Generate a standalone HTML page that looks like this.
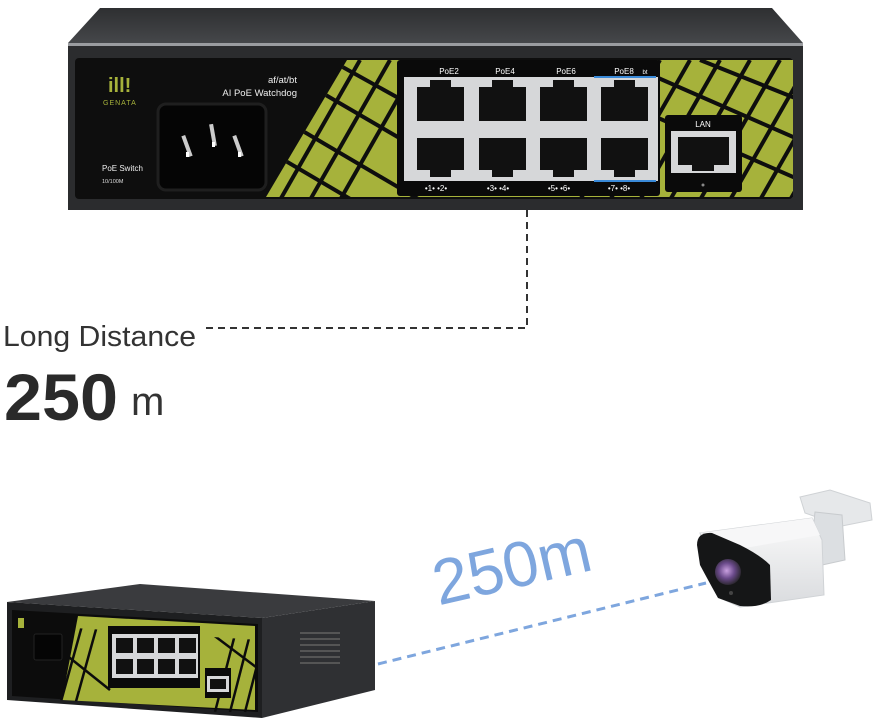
<!DOCTYPE html>
<html><head><meta charset="utf-8"><style>
html,body{margin:0;padding:0;background:#fff;width:880px;height:727px;overflow:hidden}
svg{display:block}
text{font-family:"Liberation Sans",sans-serif}
</style></head><body>
<svg width="880" height="727" viewBox="0 0 880 727" xmlns="http://www.w3.org/2000/svg">
<defs>
<linearGradient id="lid" x1="0" y1="0" x2="0" y2="1"><stop offset="0" stop-color="#2e2f31"/><stop offset="1" stop-color="#45474a"/></linearGradient>
<linearGradient id="body" x1="0" y1="0" x2="0" y2="1"><stop offset="0" stop-color="#fafafa"/><stop offset="1" stop-color="#d9dbde"/></linearGradient>
<clipPath id="gclip"><polygon points="347,60 793,60 793,197 266,197"/></clipPath>
<clipPath id="gclip2"><polygon points="75,628 258,640 258,715 60,700"/></clipPath>
<radialGradient id="lens" cx="0.45" cy="0.45" r="0.6"><stop offset="0" stop-color="#c9a0e0"/><stop offset="0.5" stop-color="#6a4a8a"/><stop offset="1" stop-color="#222"/></radialGradient>
</defs>

<!-- Top switch -->
<polygon points="100,8 772,8 803,43 68,43" fill="url(#lid)"/>
<rect x="68" y="43" width="735" height="3" fill="#9a9ca0"/>
<rect x="68" y="46" width="735" height="164" fill="#2b2c2e"/>
<rect x="75" y="58" width="718" height="141" rx="4" fill="#0e0e0e"/>
<polygon points="347,60 793,60 793,197 266,197" fill="#a6b23b"/>
<g clip-path="url(#gclip)" stroke="#0e0e0e" stroke-width="4">
<line x1="360" y1="60" x2="280" y2="200"/><line x1="390" y1="60" x2="310" y2="200"/>
<line x1="420" y1="60" x2="340" y2="200"/><line x1="660" y1="60" x2="580" y2="200"/>
<line x1="690" y1="60" x2="610" y2="200"/><line x1="720" y1="60" x2="640" y2="200"/>
<line x1="750" y1="60" x2="670" y2="200"/><line x1="780" y1="60" x2="700" y2="200"/>
<line x1="810" y1="60" x2="730" y2="200"/><line x1="840" y1="60" x2="760" y2="200"/>
<line x1="870" y1="60" x2="790" y2="200"/>
<line x1="250" y1="100" x2="420" y2="200"/><line x1="250" y1="140" x2="420" y2="240"/>
<line x1="300" y1="80" x2="420" y2="150"/><line x1="330" y1="60" x2="420" y2="110"/>
<line x1="640" y1="70" x2="800" y2="140"/><line x1="640" y1="110" x2="800" y2="180"/>
<line x1="700" y1="60" x2="800" y2="100"/>
</g>
<text x="108" y="92" fill="#a6b23b" font-size="20" font-weight="bold">ill!</text>
<text x="103" y="105" fill="#a6b23b" font-size="7" letter-spacing="1">GENATA</text>
<text x="297" y="83" fill="#eee" font-size="9.5" text-anchor="end">af/at/bt</text>
<text x="297" y="96" fill="#eee" font-size="9.5" text-anchor="end">AI PoE Watchdog</text>
<text x="102" y="171" fill="#eee" font-size="8">PoE Switch</text>
<text x="102" y="183" fill="#ddd" font-size="5.5">10/100M</text>
<rect x="158" y="104" width="108" height="86" rx="8" fill="#050505" stroke="#1f1f1f" stroke-width="3"/>
<g fill="#ccc"><rect x="185" y="135" width="4" height="22" transform="rotate(-20 187 146)"/><rect x="211" y="124" width="4" height="22" transform="rotate(-10 213 135)"/><rect x="236" y="135" width="4" height="22" transform="rotate(-20 238 146)"/></g>
<g fill="#fff"><rect x="186" y="152" width="3" height="5"/><rect x="212" y="142" width="3" height="5"/><rect x="238" y="152" width="3" height="5"/></g>
<!-- port block -->
<rect x="397" y="60" width="263" height="136" rx="3" fill="#0a0a0a"/>
<rect x="404" y="77" width="254" height="104" fill="#d6d7d9"/>
<rect x="594" y="76" width="62" height="2" fill="#3a8ad8"/><rect x="594" y="180" width="62" height="2" fill="#3a8ad8"/>
<g fill="#fff" font-size="8" text-anchor="middle">
<text x="449" y="74">PoE2</text><text x="505" y="74">PoE4</text><text x="566" y="74">PoE6</text><text x="624" y="74">PoE8</text><text x="645" y="74" font-size="6">bt</text>
<text x="436" y="191" font-size="8">•1•  •2•</text><text x="498" y="191" font-size="8">•3•  •4•</text><text x="559" y="191" font-size="8">•5•  •6•</text><text x="619" y="191" font-size="8">•7•  •8•</text>
</g>
<g fill="#111">
<rect x="417" y="87" width="47" height="34"/><rect x="479" y="87" width="47" height="34"/><rect x="540" y="87" width="47" height="34"/><rect x="601" y="87" width="47" height="34"/>
<rect x="430" y="80" width="21" height="8"/><rect x="492" y="80" width="21" height="8"/><rect x="553" y="80" width="21" height="8"/><rect x="614" y="80" width="21" height="8"/>
<rect x="417" y="138" width="47" height="32"/><rect x="479" y="138" width="47" height="32"/><rect x="540" y="138" width="47" height="32"/><rect x="601" y="138" width="47" height="32"/>
<rect x="430" y="169" width="21" height="8"/><rect x="492" y="169" width="21" height="8"/><rect x="553" y="169" width="21" height="8"/><rect x="614" y="169" width="21" height="8"/>
</g>
<rect x="665" y="115" width="77" height="77" rx="3" fill="#0a0a0a"/>
<text x="703" y="127" fill="#fff" font-size="8" text-anchor="middle">LAN</text>
<rect x="671" y="131" width="65" height="42" fill="#d6d7d9"/>
<rect x="678" y="137" width="51" height="28" fill="#111"/><rect x="692" y="164" width="22" height="7" fill="#111"/>
<circle cx="703" cy="185" r="1.5" fill="#888"/>

<!-- dashed connector -->
<path d="M527,210 V328 H205" fill="none" stroke="#333" stroke-width="2" stroke-dasharray="7,5"/>
<text x="3" y="346" fill="#333" font-size="29" textLength="193" lengthAdjust="spacingAndGlyphs">Long Distance</text>
<text x="4" y="420" fill="#2a2a2a" font-size="66" font-weight="bold" textLength="114" lengthAdjust="spacingAndGlyphs">250</text>
<text x="131" y="415" fill="#333" font-size="40">m</text>

<!-- bottom dashed blue -->
<line x1="378" y1="664" x2="706" y2="583" stroke="#7ea6de" stroke-width="3" stroke-dasharray="9,6"/>
<text x="428" y="588" fill="#7ea6de" font-size="64" transform="rotate(-13 510 550)">250m</text>

<!-- bottom switch -->
<polygon points="7,602 140,584 375,601 262,618" fill="#3a3b3e"/>
<polygon points="262,618 375,601 375,690 262,718" fill="#2f3033"/>
<polygon points="7,602 262,618 262,718 7,700" fill="#1e1f21"/>
<polygon points="12,610 258,624 258,712 12,696" fill="#0c0c0c"/>
<polygon points="78,616 255,626 255,710 62,700" fill="#a6b23b"/>
<g clip-path="url(#gclip2)" stroke="#0c0c0c" stroke-width="2.5">
<line x1="85" y1="615" x2="60" y2="705"/><line x1="100" y1="615" x2="75" y2="705"/><line x1="240" y1="615" x2="215" y2="712"/><line x1="255" y1="615" x2="230" y2="712"/><line x1="270" y1="615" x2="245" y2="712"/>
<line x1="60" y1="650" x2="110" y2="690"/><line x1="200" y1="625" x2="260" y2="670"/>
</g>
<rect x="108" y="626" width="92" height="62" fill="#0a0a0a"/>
<rect x="112" y="634" width="86" height="44" fill="#d6d7d9"/>
<g fill="#111">
<rect x="116" y="638" width="17" height="15"/><rect x="137" y="638" width="17" height="15"/><rect x="158" y="638" width="17" height="15"/><rect x="179" y="638" width="17" height="15"/>
<rect x="116" y="659" width="17" height="15"/><rect x="137" y="659" width="17" height="15"/><rect x="158" y="659" width="17" height="15"/><rect x="179" y="659" width="17" height="15"/>
</g>
<rect x="205" y="668" width="26" height="30" fill="#0a0a0a"/><rect x="207" y="676" width="22" height="16" fill="#d6d7d9"/><rect x="210" y="679" width="16" height="10" fill="#111"/>
<rect x="34" y="634" width="28" height="26" rx="2" fill="#050505" stroke="#222"/>
<rect x="18" y="618" width="6" height="10" fill="#a6b23b"/>
<g fill="#555"><rect x="300" y="632" width="40" height="2"/><rect x="300" y="638" width="40" height="2"/><rect x="300" y="644" width="40" height="2"/><rect x="300" y="650" width="40" height="2"/><rect x="300" y="656" width="40" height="2"/><rect x="300" y="662" width="40" height="2"/></g>

<!-- camera -->
<polygon points="800,497 830,490 870,503 872,520 842,526 805,513" fill="#e6e8ea" stroke="#cfd2d5"/>
<polygon points="815,512 842,515 845,560 822,565 812,540" fill="#dcdfe2" stroke="#c8cbce"/>
<polygon points="700,533 812,518 822,540 824,595 740,607 720,598" fill="url(#body)" stroke="#d0d3d6"/>
<polygon points="700,533 812,518 820,535 745,548" fill="#f7f7f8"/>
<path d="M697,545 Q697,532 712,533 L740,545 Q760,555 770,565 L771,600 Q760,608 740,606 L718,598 Q708,580 700,565 Z" fill="#151617"/>
<circle cx="728" cy="572" r="13" fill="url(#lens)"/>
<circle cx="731" cy="593" r="2" fill="#444"/>
</svg>
</body></html>
